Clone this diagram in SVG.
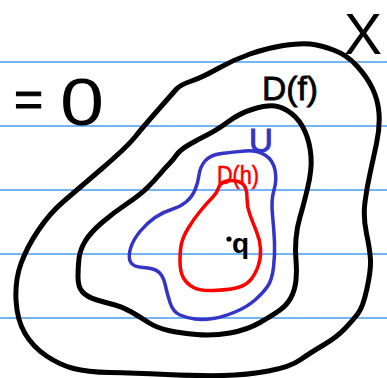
<svg xmlns="http://www.w3.org/2000/svg" width="387" height="378" viewBox="0 0 387 378">
  <style>
    .rule { stroke: #74b5f6; stroke-width: 2; }
    .region { fill: none; stroke-linejoin: round; stroke-linecap: round; }
    .blk { stroke: #000; stroke-width: 5; }
    .blu { stroke: #3434c6; stroke-width: 3.5; }
    .red { stroke: #ff0000; stroke-width: 3.5; }
    .t { font-family: "Liberation Sans", Arial, sans-serif; }
  </style>
  <rect x="0" y="0" width="387" height="378" fill="#ffffff"/>
  <g id="ruled-lines">
    <line class="rule" x1="0" y1="62" x2="387" y2="62"/>
    <line class="rule" x1="0" y1="126" x2="387" y2="126"/>
    <line class="rule" x1="0" y1="190" x2="387" y2="190"/>
    <line class="rule" x1="0" y1="254" x2="387" y2="254"/>
    <line class="rule" x1="0" y1="318" x2="387" y2="318"/>
  </g>
  <g id="region-X">
    <path class="region blk" d="M 16,300 Q 15,280 21,263.5 Q 27,247 38.5,230 Q 50,213 63.5,201.5 Q 77,190 102,168.5 Q 127,147 135,137 Q 143,127 158,110 Q 173,93 176.5,89 Q 180,85 191.5,81 Q 203,77 218,68.5 Q 233,60 250,54 Q 267,48 283.5,45.5 Q 300,43 310,44 Q 320,45 333.5,50 Q 347,55 357,66 Q 367,77 372.5,88.5 Q 378,100 379,113.5 Q 380,127 376.5,143.5 Q 373,160 370,173.5 Q 367,187 365,202 Q 363,217 366.5,233.5 Q 370,250 370.5,260 Q 371,270 367,288.5 Q 363,307 358,313.5 Q 353,320 345,328.5 Q 337,337 323.5,345 Q 310,353 300,360 Q 290,367 268.5,371 Q 247,375 223.5,375.5 Q 200,376 166.5,374.5 Q 133,373 110,372.5 Q 87,372 73.5,368.5 Q 60,365 46.5,356 Q 33,347 25,333.5 Q 17,320 16,300 Z"/>
    <text class="t" x="344" y="54" font-size="57" fill="#000">X</text>
  </g>
  <g id="region-Df">
    <path class="region blk" d="M 78,277 Q 78,267 79,258.5 Q 80,250 85,241.5 Q 90,233 101.5,223 Q 113,213 126.5,204 Q 140,195 147.5,187.5 Q 155,180 160,174 Q 165,168 169,164 Q 173,160 176.5,155 Q 180,150 188.5,145 Q 197,140 207,135 Q 217,130 228.5,121.5 Q 240,113 253.5,109 Q 267,105 275,106 Q 283,107 291.5,113.5 Q 300,120 305,131.5 Q 310,143 311,156.5 Q 312,170 307.5,188.5 Q 303,207 300,217 Q 297,227 296,238.5 Q 295,250 296,260 Q 297,270 296,280 Q 295,290 291,297.5 Q 287,305 280,310 Q 273,315 260,322.5 Q 247,330 230,333 Q 213,336 196.5,334.5 Q 180,333 168.5,330.5 Q 157,328 148.5,322.5 Q 140,317 131.5,312 Q 123,307 115,305 Q 107,303 97,300 Q 87,297 82.5,292 Q 78,287 78,277 Z"/>
    <text class="t" x="262" y="100" font-size="34" fill="#000" stroke="#000" stroke-width="0.8" textLength="56" lengthAdjust="spacingAndGlyphs">D(f)</text>
  </g>
  <g id="region-U">
    <path class="region blu" d="M 130.5,262 Q 128,257 130.5,248.5 Q 133,240 140,231.5 Q 147,223 155,217.5 Q 163,212 171.5,209.5 Q 180,207 186,202 Q 192,197 195,190 Q 198,183 199,175 Q 200,167 205,161 Q 210,155 221.5,153.5 Q 233,152 245,151 Q 257,150 265,155 Q 273,160 275,170 Q 277,180 274,190 Q 271,200 272.5,215 Q 274,230 274.5,242.5 Q 275,255 273.5,267.5 Q 272,280 267.5,286.5 Q 263,293 255,300 Q 247,307 235,312 Q 223,317 213,318.5 Q 203,320 195,319 Q 187,318 180,315 Q 173,312 170,302.5 Q 167,293 165,284 Q 163,275 158,271.5 Q 153,268 143,267.5 Q 133,267 130.5,262 Z"/>
    <text class="t" x="249" y="152" font-size="33" fill="#3434c6" stroke="#3434c6" stroke-width="1">U</text>
  </g>
  <g id="region-Dh">
    <path class="region red" d="M 180,261 Q 180,250 181.5,243.5 Q 183,237 188,228.5 Q 193,220 200,211.5 Q 207,203 212,198 Q 217,193 218.5,188 Q 220,183 225,181.5 Q 230,180 236,181 Q 242,182 244.5,186 Q 247,190 247,198.5 Q 247,207 250,215 Q 253,223 256.5,231.5 Q 260,240 260.5,249 Q 261,258 258,266.5 Q 255,275 250,280.5 Q 245,286 236,288 Q 227,290 213.5,290.5 Q 200,291 193.5,287.5 Q 187,284 183.5,278 Q 180,272 180,261 Z"/>
    <text class="t" x="217" y="184" font-size="25" fill="#ff0000" stroke="#ff0000" stroke-width="0.6" textLength="42" lengthAdjust="spacingAndGlyphs">D(h)</text>
  </g>
  <g id="point-q">
    <circle cx="229" cy="239" r="2.6" fill="#000"/>
    <text class="t" x="232" y="253" font-size="28" font-weight="bold" fill="#000">q</text>
  </g>
  <g id="equation">
    <text class="t" x="14" y="116" font-size="50" fill="#000" stroke="#000" stroke-width="1">=</text>
    <text class="t" x="0" y="0" font-size="66" fill="#000" transform="translate(60,125) scale(1.2,1)">0</text>
  </g>
</svg>
